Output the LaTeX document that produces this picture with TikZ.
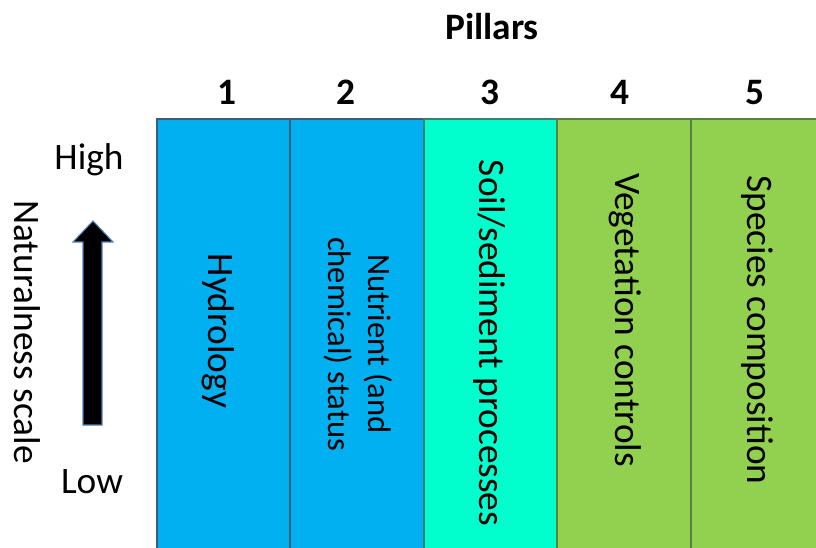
\documentclass[tikz,border=0pt]{standalone}
\usepackage{fontspec}
\setmainfont{Carlito}
\usetikzlibrary{arrows.meta}
\definecolor{hydroblue}{HTML}{00B0F0}
\definecolor{hydroline}{HTML}{3A5F78}
\definecolor{soilaqua}{HTML}{00FFCC}
\definecolor{soilline}{HTML}{3A8070}
\definecolor{vegegreen}{HTML}{92D050}
\definecolor{vegeline}{HTML}{5B7F3F}
\definecolor{arrowline}{HTML}{4F81BD}

\begin{document}
\begin{tikzpicture}[x=0.75pt,y=-0.75pt,
		pillar/.style={line width=1pt},
		lbl/.style={font=\fontsize{28}{30}\selectfont, inner sep=0pt},
		vlbl/.style={lbl, rotate=-90, align=center},
		hdr/.style={font=\bfseries\fontsize{28}{30}\selectfont, inner sep=0pt}]
		\useasboundingbox (0,0) rectangle (816,548);
		\clip (0,0) rectangle (816,548);
		\fill[white] (0,0) rectangle (816,548);
		
		% columns
		\draw[pillar, fill=hydroblue, draw=hydroline] (157,119) rectangle (290,560);
		\draw[pillar, fill=hydroblue, draw=hydroline] (290,119) rectangle (424,560);
		\draw[pillar, fill=soilaqua, draw=soilline] (424,119) rectangle (557,560);
		\draw[pillar, fill=vegegreen, draw=vegeline] (557,119) rectangle (691,560);
		\draw[pillar, fill=vegegreen, draw=vegeline] (691,119) rectangle (830,560);
		
		% headings
		\node[hdr, anchor=base] (pillars) at (492,40) {Pillars};
		\node[hdr, anchor=base] (p1) at (227,105) {1};
		\node[hdr, anchor=base] (p2) at (346,105) {2};
		\node[hdr, anchor=base] (p3) at (490,105) {3};
		\node[hdr, anchor=base] (p4) at (620,105) {4};
		\node[hdr, anchor=base] (p5) at (755,105) {5};
		
		\node[vlbl] (hydro) at (218,331) {Hydrology};
		\node[vlbl, font=\fontsize{24.5}{29.6}\selectfont] (nutri) at (358,344) {Nutrient (and\\chemical) status};
		\node[vlbl] (soil) at (489,343) {Soil/sediment processes};
		\node[vlbl] (vege) at (625,320) {Vegetation controls};
		\node[vlbl] (spec) at (757,330) {Species composition};
		
		% scale
		\node[vlbl, anchor=base] (scale) at (14,332) {Naturalness scale};
		\node[lbl, anchor=base] (high) at (89,170) {High};
		\node[lbl, anchor=base] (low) at (92,493) {Low};
		\draw[fill=black, draw=arrowline, line width=0.8pt]
		(83,425) -- (83,242) -- (73,242) -- (93,221) -- (113,242) -- (102,242) -- (102,425) -- cycle;
	\end{tikzpicture}
\end{document}
